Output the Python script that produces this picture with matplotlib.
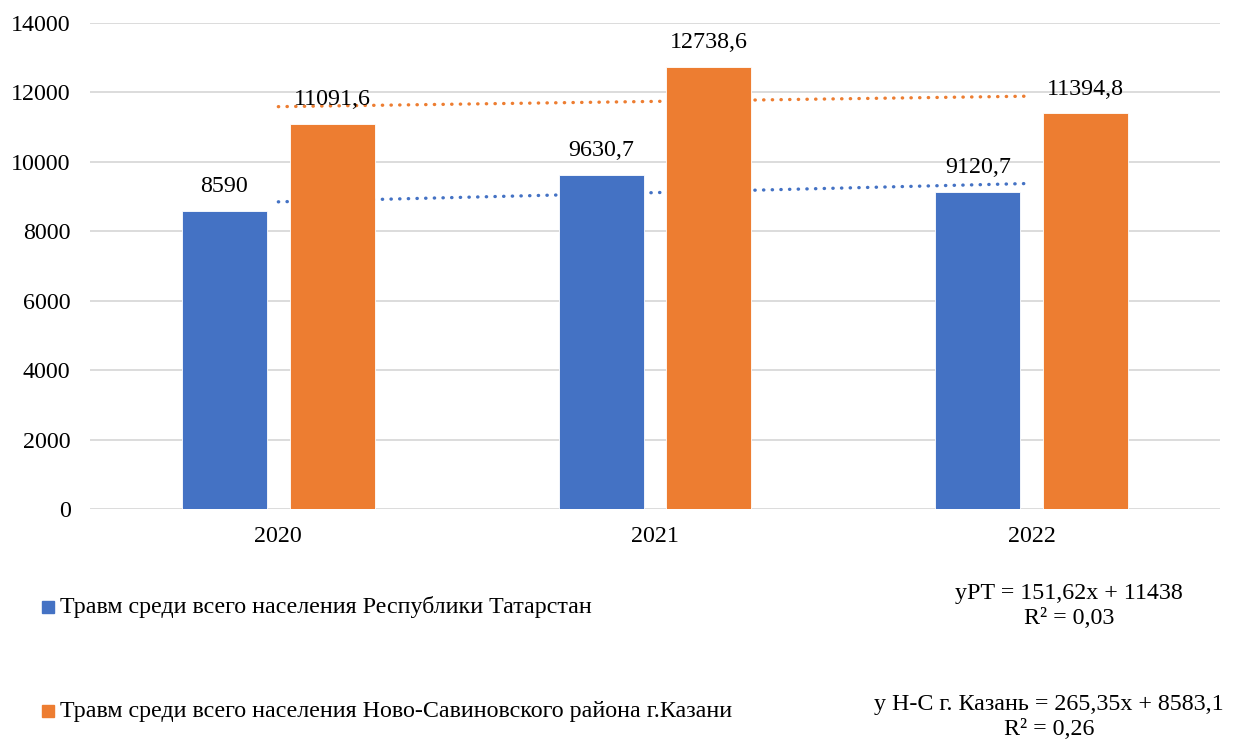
import numpy as np
import matplotlib.pyplot as plt

plt.rcParams['font.family'] = ['Liberation Serif', 'DejaVu Serif']

years = ['2020', '2021', '2022']
rt_values = [8590, 9630.7, 9120.7]
ns_values = [11091.6, 12738.6, 11394.8]
rt_labels = ['8590', '9630,7', '9120,7']
ns_labels = ['11091,6', '12738,6', '11394,8']
rt_name = 'Травм среди всего населения Республики Татарстан'
ns_name = 'Травм среди всего населения Ново-Савиновского района г.Казани'
eq_top = 'yPT = 151,62x + 11438\nR² = 0,03'
eq_bottom = 'y Н-С г. Казань = 265,35x + 8583,1\nR² = 0,26'

blue = '#4472C4'
orange = '#ED7D31'
fs = 17.3

fig = plt.figure(figsize=(12.4, 7.39), dpi=100)
ax = fig.add_axes([90 / 1240, 1 - 509 / 739, 1130 / 1240, 486 / 739])

x = np.arange(len(years))
w = 0.225
off = 0.143

# linear trendlines (fit on category index 1..3), drawn behind bars
t = np.arange(1, len(years) + 1)
for vals, col in [(rt_values, blue), (ns_values, orange)]:
    k, b = np.polyfit(t, vals, 1)
    ax.plot(x, k * t + b, color=col, lw=2.4, ls=(0, (0.1, 2.5)),
            dash_capstyle='round', zorder=1)

ax.bar(x - off, rt_values, w, color=blue, edgecolor='white', lw=0.6, zorder=2)
ax.bar(x + off, ns_values, w, color=orange, edgecolor='white', lw=0.6, zorder=2)

for xi, v, lab in zip(x, rt_values, rt_labels):
    ax.text(xi - off, v + 400, lab, ha='center', va='bottom', fontsize=fs, zorder=3)
for xi, v, lab in zip(x, ns_values, ns_labels):
    ax.text(xi + off, v + 400, lab, ha='center', va='bottom', fontsize=fs, zorder=3)

ax.set_xlim(-0.5, 2.5)
ax.set_ylim(0, 14000)
ax.set_yticks(range(0, 14001, 2000))
ax.set_xticks(x)
ax.set_xticklabels(years)
ax.tick_params(axis='both', length=0, labelsize=fs)
ax.tick_params(axis='y', pad=14)
ax.tick_params(axis='x', pad=12)
ax.grid(axis='y', color='#D9D9D9', lw=1.3)
ax.set_axisbelow(True)
for s in ax.spines.values():
    s.set_visible(False)

# legend entries
fig.patches.append(plt.Rectangle((42 / 1240, 1 - 613 / 739), 12 / 1240, 12 / 739,
                                 transform=fig.transFigure, color=blue))
fig.text(60 / 1240, 1 - 607 / 739, rt_name, fontsize=fs, va='center')
fig.patches.append(plt.Rectangle((42 / 1240, 1 - 717 / 739), 12 / 1240, 12 / 739,
                                 transform=fig.transFigure, color=orange))
fig.text(60 / 1240, 1 - 711 / 739, ns_name, fontsize=fs, va='center')

fig.text(1069 / 1240, 1 - 606 / 739, eq_top, fontsize=fs, ha='center', va='center',
         linespacing=1.3)
fig.text(1049 / 1240, 1 - 717 / 739, eq_bottom, fontsize=fs, ha='center', va='center',
         linespacing=1.3)

fig.savefig('out.png', dpi=100)
